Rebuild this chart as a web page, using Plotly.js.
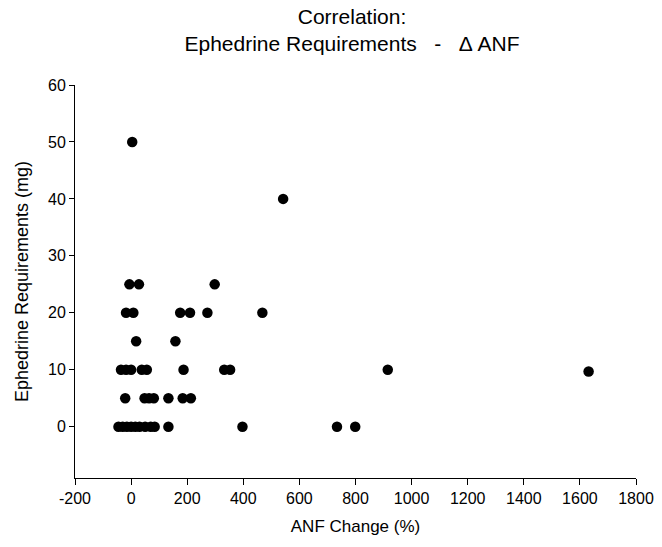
<!DOCTYPE html>
<html>
<head>
<meta charset="utf-8">
<script src="https://cdn.plot.ly/plotly-3.0.1.min.js"></script>
<style>html,body{margin:0;padding:0;background:#fff;}#chart{width:662px;height:547px;}</style>
</head>
<body>
<div id="chart"></div>
<script>
// ANF change (%) and ephedrine requirements (mg)
var anfChange = [
  4, 542,
  -6, 28, 298,
  -18, 8, 175, 210, 272, 468,
  18, 158,
  -36, -18, 0, 38, 56, 187, 332, 353, 915, 1631,
  -21, 48, 64, 81, 133, 184, 213,
  -45, -30, -15, 0, 15, 30, 50, 70, 84, 133, 397, 734, 799
];
var ephedrine = [
  50, 40,
  25, 25, 25,
  20, 20, 20, 20, 20, 20,
  15, 15,
  10, 10, 10, 10, 10, 10, 10, 10, 10, 9.7,
  5, 5, 5, 5, 5, 5, 5,
  0, 0, 0, 0, 0, 0, 0, 0, 0, 0, 0, 0, 0
];
var xTicks = [-200, 0, 200, 400, 600, 800, 1000, 1200, 1400, 1600, 1800];
var yTicks = [0, 10, 20, 30, 40, 50, 60];

var font = "Liberation Sans, Arial, sans-serif";
var trace = {
  x: anfChange, y: ephedrine, type: 'scatter', mode: 'markers',
  marker: {color: '#000', size: 10.5, line: {width: 0}},
  hoverinfo: 'x+y'
};
var layout = {
  width: 662, height: 547,
  margin: {l: 75, r: 26, t: 85, b: 69},
  paper_bgcolor: '#fff', plot_bgcolor: '#fff',
  font: {family: font, color: '#000', size: 16},
  showlegend: false,
  title: {
    text: 'Correlation:<br>Ephedrine Requirements &nbsp;&nbsp;- &nbsp;&nbsp;\u0394 ANF',
    font: {family: font, size: 21, color: '#000'},
    x: 352/662, xanchor: 'center', xref: 'container',
    y: 1 - 24/547, yanchor: 'top', yref: 'container'
  },
  xaxis: {
    range: [-200, 1800], tickmode: 'array', tickvals: xTicks,
    ticktext: xTicks.map(String),
    showline: true, linecolor: '#000', linewidth: 1,
    ticks: 'outside', ticklen: 6, tickcolor: '#000', tickwidth: 1,
    showgrid: false, zeroline: false,
    tickfont: {family: font, size: 16, color: '#000'},
    title: {text: 'ANF Change (%)', font: {family: font, size: 17, color: '#000'}, standoff: 13}
  },
  yaxis: {
    range: [-9, 60], tickmode: 'array', tickvals: yTicks,
    ticktext: yTicks.map(String),
    showline: true, linecolor: '#000', linewidth: 1,
    ticks: 'outside', ticklen: 5, tickcolor: '#000', tickwidth: 1,
    showgrid: false, zeroline: false,
    tickfont: {family: font, size: 16, color: '#000'},
    title: {text: 'Ephedrine Requirements (mg)', font: {family: font, size: 18, color: '#000'}, standoff: 14}
  }
};
Plotly.newPlot('chart', [trace], layout, {displayModeBar: false, staticPlot: true});
</script>
</body>
</html>
